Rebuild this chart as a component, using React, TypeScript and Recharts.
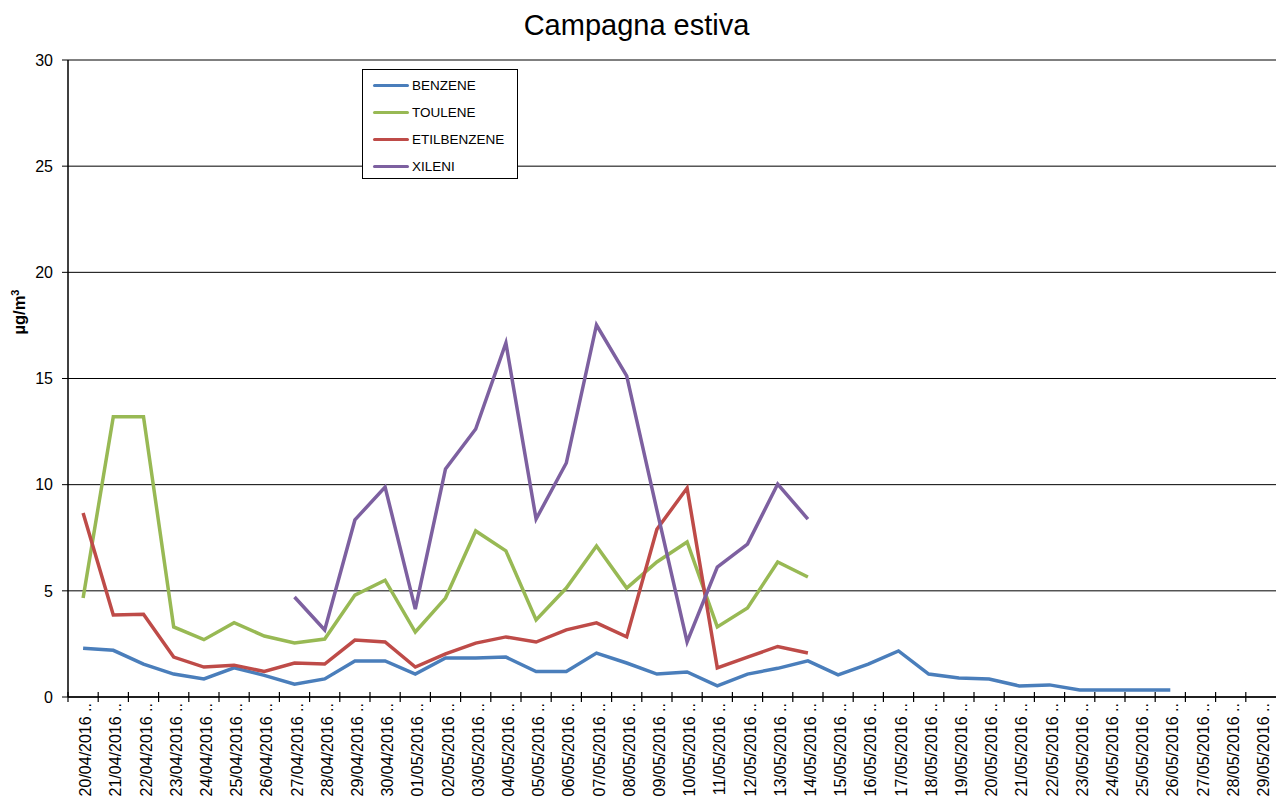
import React from 'react';
import { LineChart, Line, XAxis, YAxis, CartesianGrid } from 'recharts';

const dates = [
  '20/04/2016', '21/04/2016', '22/04/2016', '23/04/2016', '24/04/2016', '25/04/2016', '26/04/2016', '27/04/2016',
  '28/04/2016', '29/04/2016', '30/04/2016', '01/05/2016', '02/05/2016', '03/05/2016', '04/05/2016', '05/05/2016',
  '06/05/2016', '07/05/2016', '08/05/2016', '09/05/2016', '10/05/2016', '11/05/2016', '12/05/2016', '13/05/2016',
  '14/05/2016', '15/05/2016', '16/05/2016', '17/05/2016', '18/05/2016', '19/05/2016', '20/05/2016', '21/05/2016',
  '22/05/2016', '23/05/2016', '24/05/2016', '25/05/2016', '26/05/2016', '27/05/2016', '28/05/2016', '29/05/2016',
];

const benzene = [
  2.3, 2.2, 1.55, 1.08, 0.85, 1.37, 1.02, 0.6, 0.85, 1.7, 1.7, 1.08, 1.84, 1.84, 1.88, 1.2,
  1.2, 2.07, 1.6, 1.08, 1.18, 0.52, 1.08, 1.35, 1.7, 1.04, 1.55, 2.17, 1.08, 0.9, 0.85, 0.52,
  0.57, 0.33, 0.33, 0.33, 0.33, null, null, null,
];

const toulene = [
  4.66, 13.2, 13.2, 3.3, 2.7, 3.5, 2.87, 2.54, 2.73, 4.8, 5.5, 3.06, 4.66, 7.82, 6.88, 3.63,
  5.13, 7.11, 5.13, 6.36, 7.3, 3.3, 4.19, 6.36, 5.65, null, null, null, null, null, null, null,
  null, null, null, null, null, null, null, null,
];

const etilbenzene = [
  8.67, 3.86, 3.9, 1.88, 1.41, 1.5, 1.2, 1.6, 1.55, 2.68, 2.59, 1.41, 2.03, 2.54, 2.83, 2.59,
  3.16, 3.49, 2.83, 7.9, 9.84, 1.37, 1.88, 2.38, 2.07, null, null, null, null, null, null, null,
  null, null, null, null, null, null, null, null,
];

const xileni = [
  null, null, null, null, null, null, null, 4.71, 3.16, 8.34, 9.89, 4.14, 10.74, 12.62, 16.67, 8.38,
  11.02, 17.52, 15.12, 8.8, 2.59, 6.12, 7.2, 10.03, 8.38, null, null, null, null, null, null, null,
  null, null, null, null, null, null, null, null,
];

const yTicks = [0, 5, 10, 15, 20, 25, 30];

const series = [
  { key: 'benzene', name: 'BENZENE', color: '#4a7ebb', values: benzene },
  { key: 'toulene', name: 'TOULENE', color: '#98b954', values: toulene },
  { key: 'etilbenzene', name: 'ETILBENZENE', color: '#be4b48', values: etilbenzene },
  { key: 'xileni', name: 'XILENI', color: '#7d60a0', values: xileni },
];

const data = dates.map((d, i) => {
  const row: Record<string, any> = { date: d };
  series.forEach((s) => { row[s.key] = s.values[i]; });
  return row;
});

const W = 1277;
const H = 798;
const PLOT_LEFT = 68;
const PLOT_RIGHT = 1;
const BAND = (W - PLOT_LEFT - PLOT_RIGHT) / dates.length;
const FONT = '"Liberation Sans", Arial, sans-serif';

// date label rotated, with a tick mark on the left edge of each band
function DateTick(props: any) {
  const { x, y, payload } = props;
  const axisY = y - 8;
  const edge = x - BAND / 2;
  const tx = x + 8;
  const ty = y - 2;
  return (
    <g>
      <line x1={edge} y1={axisY - 5} x2={edge} y2={axisY + 5} stroke="#000" strokeWidth={1.2} />
      <text
        x={tx}
        y={ty}
        transform={`rotate(-90, ${tx}, ${ty})`}
        textAnchor="end"
        fontSize={16}
        fontFamily={FONT}
        fill="#000"
      >
        {payload.value + ' ..'}
      </text>
    </g>
  );
}

function LegendBox() {
  return (
    <div
      style={{
        position: 'absolute',
        left: 362,
        top: 69,
        width: 156,
        height: 110,
        border: '1px solid #000',
        background: '#fff',
        paddingTop: 2,
        boxSizing: 'border-box',
      }}
    >
      {series.map((s) => (
        <div key={s.key} style={{ display: 'flex', alignItems: 'center', height: 27, paddingLeft: 10 }}>
          <div style={{ width: 36, height: 3, background: s.color, borderRadius: 2 }} />
          <span style={{ fontFamily: FONT, fontSize: 13.5, color: '#000', marginLeft: 3 }}>{s.name}</span>
        </div>
      ))}
    </div>
  );
}

export default function App() {
  return (
    <div style={{ position: 'absolute', left: 0, top: 0, width: W, height: H, background: '#fff' }}>
      <LineChart
        width={W}
        height={H}
        data={data}
        margin={{ top: 60, right: PLOT_RIGHT, bottom: 0, left: 0 }}
        style={{ position: 'absolute', left: 0, top: 0 }}
      >
        <CartesianGrid vertical={false} stroke="#000" strokeWidth={1} />
        <XAxis
          dataKey="date"
          scale="band"
          interval={0}
          height={101}
          axisLine={{ stroke: '#000', strokeWidth: 1.5 }}
          tickLine={false}
          tick={<DateTick />}
        />
        <YAxis
          width={PLOT_LEFT}
          domain={[0, 30]}
          ticks={yTicks}
          interval={0}
          axisLine={{ stroke: '#000', strokeWidth: 1.5 }}
          tickLine={{ stroke: '#000' }}
          tickMargin={9}
          tick={{ fontSize: 16, fill: '#000', fontFamily: FONT }}
        />
        {series.map((s) => (
          <Line
            key={s.key}
            type="linear"
            dataKey={s.key}
            name={s.name}
            stroke={s.color}
            strokeWidth={3.5}
            dot={false}
            activeDot={false}
            isAnimationActive={false}
          />
        ))}
      </LineChart>
      <div
        style={{
          position: 'absolute',
          left: 0,
          width: W - 4,
          top: 9,
          textAlign: 'center',
          fontFamily: FONT,
          fontSize: 29,
          color: '#000',
        }}
      >
        Campagna estiva
      </div>
      <div
        style={{
          position: 'absolute',
          left: 19,
          top: 312,
          transform: 'translate(-50%, -50%) rotate(-90deg)',
          fontFamily: FONT,
          fontSize: 16.5,
          fontWeight: 'bold',
          whiteSpace: 'nowrap',
        }}
      >
        µg/m<sup style={{ fontSize: 11 }}>3</sup>
      </div>
      <LegendBox />
    </div>
  );
}
